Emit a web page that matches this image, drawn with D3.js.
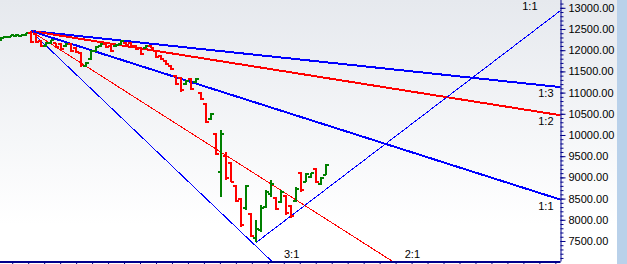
<!DOCTYPE html>
<html><head><meta charset="utf-8">
<script src="https://cdn.jsdelivr.net/npm/d3@7/dist/d3.min.js"></script>
<style>html,body{margin:0;padding:0;background:#fff;overflow:hidden}svg{display:block}</style>
</head><body>
<script>
// ---- data (bar index, OHLC) ----
const opens  = [12230,12300,12320,12330,12340,12350,12410,12380,12220,12090,12160,12160,12150,12090,12150,12060,11940,11630,11800,11990,12090,12150,12100,12090,12140,12180,12170,12100,12060,12060,12110,11990,11870,11750,11630,11400,11340,11200,11320,11250,11000,10740,10380,10020,9130,9500,9340,8800,8480,8280,8140,7560,7750,8300,8600,8520,8430,8560,8330,8450,9100,8900,9000,9200,8840,9060];
const highs  = [12310,12335,12360,12380,12360,12405,12455,12405,12240,12190,12240,12170,12170,12170,12170,12075,11960,11720,12005,12100,12170,12170,12120,12150,12240,12190,12190,12120,12075,12120,12120,12005,11890,11770,11650,11415,11370,11300,11345,11345,11015,10755,10520,10050,10120,9600,9360,8820,8515,8820,8160,7995,8350,8700,8940,8540,8700,8585,8350,8775,9130,9105,9105,9220,9010,9315];
const lows   = [12220,12290,12310,12310,12330,12335,12170,12170,12075,12075,12150,12050,12005,12075,11960,11935,11605,11605,11770,11960,12075,12050,11960,12075,12120,12120,12075,12005,11890,12050,12050,11815,11770,11650,11530,11180,11015,11180,11060,11225,10825,10285,10355,9530,8540,8940,8890,8420,7830,8230,7595,7475,7710,8280,8540,8230,8400,8110,8040,8420,8655,8890,8985,8870,8820,9055];
const closes = [12290,12320,12350,12360,12355,12395,12200,12190,12100,12170,12230,12070,12030,12150,11990,11960,11640,11700,11990,12080,12150,12070,11990,12130,12220,12130,12090,12020,11910,12110,12060,11840,11790,11670,11550,11200,11050,11280,11090,11320,10850,10310,10500,9560,10030,8980,8900,8450,7870,8790,7620,7790,8280,8650,8850,8260,8650,8150,8080,8730,8700,9080,9100,8900,8990,9300];

// price axis ticks
const majorTicks = [7500,8000,8500,9000,9500,10000,10500,11000,11500,12000,12500,13000];
const minorTicks = d3.range(7100, 13200, 100);
const timeTickStart = -0.85, timeTickStep = 3.19; // bar units

// Gann fans: origin bar index, origin price, price per bar for 1:1, ratios
const topFan = {bar: 6, price: 12455, unit: 37.6};
const topFanLines = [
  {name: "1:3", ratio: 1/3, color: "#0000ff", width: 2},
  {name: "1:2", ratio: 1/2, color: "#ff0000", width: 2},
  {name: "1:1", ratio: 1,   color: "#0000ff", width: 2},
  {name: "2:1", ratio: 2,   color: "#ff0000", width: 1},
  {name: "3:1", ratio: 3,   color: "#0000ff", width: 1}
];
const lowFan = {bar: 51, price: 7460, unit: 90};
const lowFanLines = [{name: "1:1", ratio: 1, color: "#0000ff", width: 1}];

// ---- layout ----
const W = 627, H = 264;
const plotR = 560.5, plotB = 261.5;
const svg = d3.select("body").append("svg").attr("width", W).attr("height", H);
const defs = svg.append("defs");
const g = defs.append("linearGradient").attr("id","bg").attr("x1",0).attr("x2",0).attr("y1",0).attr("y2",1);
g.append("stop").attr("offset","0%").attr("stop-color","#e6e9ee");
g.append("stop").attr("offset","85%").attr("stop-color","#ffffff");
defs.append("clipPath").attr("id","clip").append("rect").attr("x",0).attr("y",0).attr("width",plotR).attr("height",plotB);

svg.append("rect").attr("width", 617).attr("height", H).attr("fill","url(#bg)");
svg.append("rect").attr("x", 617).attr("width", 10).attr("height", H).attr("fill","#b9d1ea");

const x = d3.scaleLinear().domain([0, 65]).range([0.5, 326]);
const y = d3.scaleLinear().domain([7028, 13184]).range([261, 0]);

const plot = svg.append("g").attr("clip-path","url(#clip)");

// fan lines
function fanLine(fan, l, dir) {
  const b1 = fan.bar + 200;
  return [[x(fan.bar), y(fan.price)], [x(b1), y(fan.price + dir * l.ratio * fan.unit * 200)]];
}
topFanLines.forEach(l => {
  const p = fanLine(topFan, l, -1);
  plot.append("line").attr("x1",p[0][0]).attr("y1",p[0][1]).attr("x2",p[1][0]).attr("y2",p[1][1])
    .attr("stroke", l.color).attr("stroke-width", l.width).attr("shape-rendering","crispEdges");
});
lowFanLines.forEach(l => {
  const p = fanLine(lowFan, l, 1);
  plot.append("line").attr("x1",p[0][0]).attr("y1",p[0][1]).attr("x2",p[1][0]).attr("y2",p[1][1])
    .attr("stroke", l.color).attr("stroke-width", l.width).attr("shape-rendering","crispEdges");
});

// OHLC bars
const bars = opens.map((o,i)=>({i, o, h: highs[i], l: lows[i], c: closes[i]}));
const bg = plot.append("g").attr("shape-rendering","crispEdges");
bars.forEach(d => {
  const col = d.c >= d.o ? "#008000" : "#ff0000";
  const cx = Math.round(x(d.i));
  bg.append("rect").attr("x", cx-1).attr("y", Math.round(y(d.h))).attr("width",2)
    .attr("height", Math.max(2, Math.round(y(d.l)) - Math.round(y(d.h)))).attr("fill", col);
  bg.append("rect").attr("x", cx-3).attr("y", Math.round(y(d.o))-1).attr("width",3).attr("height",2).attr("fill",col);
  bg.append("rect").attr("x", cx).attr("y", Math.round(y(d.c))-1).attr("width",3).attr("height",2).attr("fill",col);
});

// fan labels
const font = "Liberation Sans, Arial, sans-serif";
function addLabel(t, px, py, anchor) {
  svg.append("text").attr("x",px).attr("y",py).attr("text-anchor",anchor)
    .attr("font-family",font).attr("font-size","11px").attr("fill","#000").text(t);
}
topFanLines.forEach(l => {
  const slope = l.ratio * topFan.unit;
  const barAtR = x.invert(plotR);
  const pR = topFan.price - slope * (barAtR - topFan.bar);
  if (y(pR) < plotB) {
    addLabel(l.name, plotR - 7, y(pR) + 10, "end");
  } else {
    const pB = y.invert(plotB);
    const b = topFan.bar + (topFan.price - pB) / slope;
    addLabel(l.name, x(b) + 12, 258, "start");
  }
});
lowFanLines.forEach(l => {
  const barAtR = x.invert(plotR);
  const pR = lowFan.price + l.ratio * lowFan.unit * (barAtR - lowFan.bar);
  addLabel(l.name, plotR - 23, Math.max(10, y(pR) - 3), "end");
});

// axes
const axR = svg.append("g").attr("transform",`translate(${plotR},0)`);
axR.call(d3.axisRight(y).tickValues(minorTicks).tickSize(3).tickFormat(""));
const axM = svg.append("g").attr("transform",`translate(${plotR},0)`)
  .call(d3.axisRight(y).tickValues(majorTicks).tickSize(5).tickPadding(3).tickFormat(d3.format(".2f")));
axR.select(".domain").remove();
axM.select(".domain").attr("d", `M0.5,0V${plotB}`).attr("stroke","#00008b");
svg.selectAll(".tick line").attr("stroke","#00008b");
axM.selectAll(".tick text").attr("font-family",font).attr("font-size","11px").attr("fill","#000");

const xt = d3.range(timeTickStart, x.invert(plotR), timeTickStep);
const axB = svg.append("g").attr("transform",`translate(0,${plotB})`)
  .call(d3.axisBottom(x).tickValues(xt).tickSize(3).tickFormat(""));
axB.select(".domain").attr("d", `M0,0.5H${plotR}`).attr("stroke","#00008b").attr("stroke-width",2);
axB.selectAll(".tick line").attr("stroke","#00008b");
</script>
</body></html>
